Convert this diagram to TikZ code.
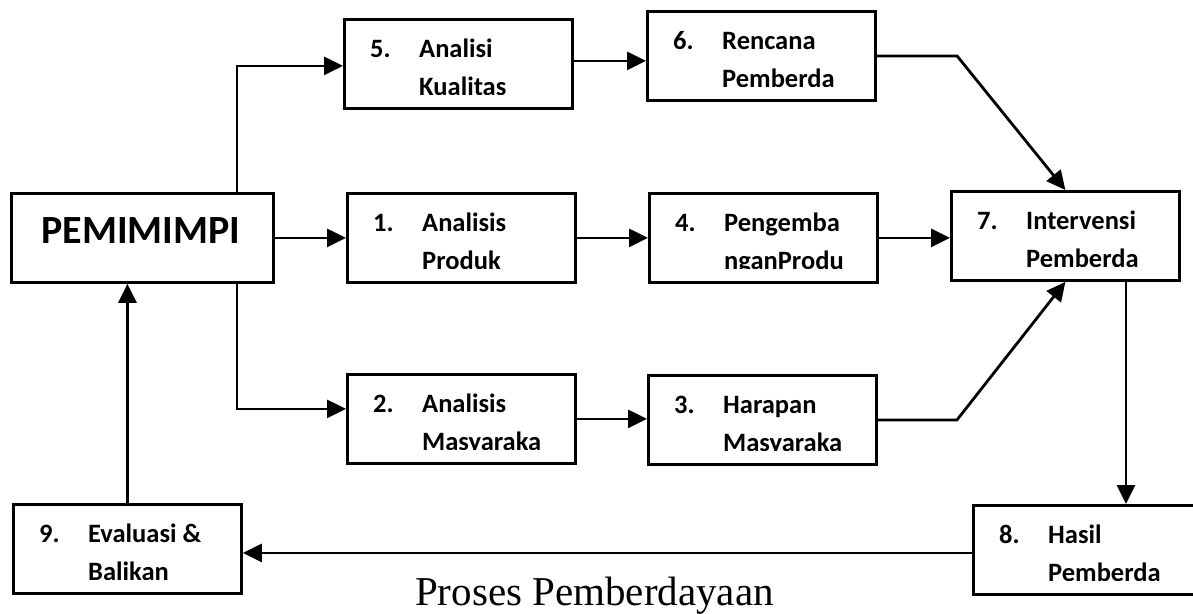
\documentclass[tikz,border=0pt]{standalone}
\usepackage{fontspec}
\setmainfont{Carlito}
\newfontfamily\hurufjudul{Liberation Serif}
\usetikzlibrary{arrows.meta}

\tikzset{
    kotak/.style={draw, line width=2.8pt, minimum width=228pt, minimum height=89pt, inner sep=0pt, anchor=north west},
    isi/.style={inner sep=0pt, anchor=base west, font=\fontsize{26.5}{30}\selectfont\bfseries},
    panah/.style={line width=2.8pt, -{Triangle[length=19pt,width=18pt]}}
}

\begin{document}
\begin{tikzpicture}[x=1pt, y=-1pt]
            \useasboundingbox (0,0) rectangle (1193,613);

            \node[kotak, minimum width=262pt] (pem) at (10,192) {};
            \node[font=\fontsize{40}{48}\selectfont\bfseries, inner sep=0pt, anchor=base] (pemteks) at (141,243) {PEMIMIMPI};

            \foreach \n/\x/\y/\atas/\bawah in {5/343/18/Analisi/Kualitas, 6/646/10/Rencana/Pemberda,
                1/346/192/Analisis/Produk, 4/648/192/Pengemba/nganProdu, 7/950/190/Intervensi/Pemberda,
                2/346/373/Analisis/Masyaraka, 3/647/374/Harapan/Masyaraka,
                9/12/503/Evaluasi \&/Balikan, 8/972/504/Hasil/Pemberda}{
                \node[kotak] (k\n) at (\x,\y) {};
                \begin{scope}
                    \clip (\x,\y) rectangle ++(228,76);
                    \node[isi] (no\n) at (\x+27,\y+39) {\n.};
                    \node[isi] (atas\n) at (\x+76,\y+39) {\atas};
                    \node[isi] (bawah\n) at (\x+76,\y+77) {\bawah};
                \end{scope}
            }

            \coordinate (cabang) at (237,0);
            \coordinate (tekukatas) at (957,0);
            \coordinate (tekukbawah) at (957,0);
            \coordinate (turun) at (1126,0);

            \draw[panah] (pem.north -| cabang) |- ([yshift=-2pt]k5.west);
            \draw[panah] (pem.east) -- (k1.west);
            \draw[panah] (pem.south -| cabang) |- ([yshift=10pt]k2.west);
            \draw[panah] ([yshift=3pt]k5.east) -- ([yshift=3pt]k5.east -| k6.west);
            \draw[panah] (k1.east) -- (k1.east -| k4.west);
            \draw[panah] (k4.east) -- (k4.east -| k7.west);
            \draw[panah] (k2.east) -- (k2.east -| k3.west);
            \draw[panah] (k6.east) -- (k6.east -| tekukatas) -- (k7.north);
            \draw[panah] (k3.east) -- (k3.east -| tekukbawah) -- (k7.south);
            \draw[panah] (k7.south -| turun) -- (k8.north -| turun);
            \draw[panah] ([yshift=-3pt]k8.west) -- ([yshift=-3pt]k8.west -| k9.east);
            \draw[panah] (k9.north) -- (k9.north |- pem.south);

            \node[font=\hurufjudul\fontsize{41}{48}\selectfont, inner sep=0pt, anchor=base] (keterangan) at (594.5,605) {Proses Pemberdayaan};
\end{tikzpicture}
\end{document}
